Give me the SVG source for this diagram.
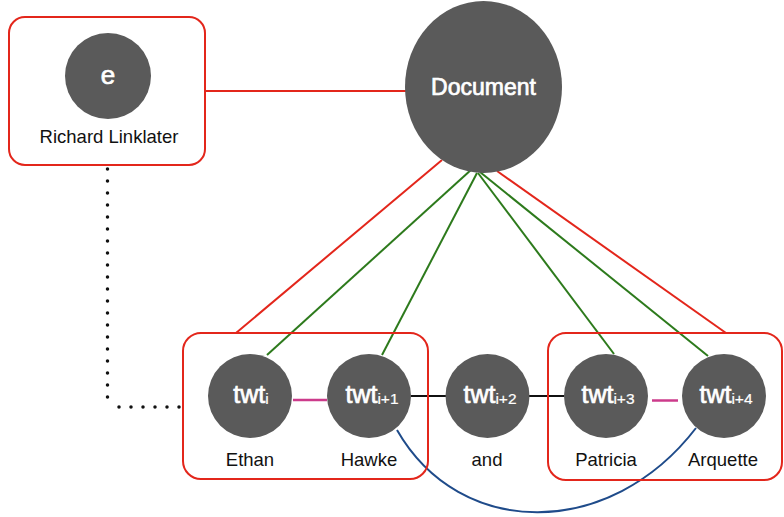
<svg xmlns="http://www.w3.org/2000/svg" width="784" height="517" viewBox="0 0 784 517">
<style>
.node{fill:#5a5a5a}
.box{fill:none;stroke:#e3261b;stroke-width:2}
.wt{fill:#ffffff;stroke:#ffffff;stroke-width:0.7;font-family:"Liberation Sans",Arial,sans-serif;text-anchor:middle}
.sub{font-size:15.5px;stroke-width:0.2}
.lbl{fill:#111111;font-family:"Liberation Sans",Arial,sans-serif;font-size:18.5px;text-anchor:middle}
.red{stroke:#e3261b;stroke-width:2;fill:none}
.green{stroke:#2d7a1c;stroke-width:2;fill:none}
.black{stroke:#111111;stroke-width:2;fill:none}
.pink{stroke:#cc3b8b;stroke-width:2.5;fill:none}
.blue{stroke:#1f4b8a;stroke-width:2;fill:none}
.dot{stroke:#111111;stroke-width:3.5;stroke-linecap:round;stroke-dasharray:0 12;fill:none}
</style>
<rect width="784" height="517" fill="#ffffff"/>
<g id="connectors">
<line class="red" x1="205" y1="91" x2="406" y2="91"/>
<line class="red" x1="442" y1="160" x2="236" y2="333"/>
<line class="red" x1="497" y1="171" x2="726" y2="333"/>
<line class="green" x1="472" y1="169" x2="267" y2="355"/>
<line class="green" x1="477" y1="173" x2="382" y2="355"/>
<line class="green" x1="478" y1="173" x2="614" y2="354"/>
<line class="green" x1="480" y1="172" x2="708" y2="356"/>
<line class="black" x1="411" y1="396" x2="446" y2="396"/>
<line class="black" x1="529" y1="396" x2="564" y2="396"/>
<line class="pink" x1="293" y1="400" x2="327" y2="400"/>
<line class="pink" x1="652" y1="400.5" x2="678" y2="400.5"/>
<path class="blue" d="M397,430 C460,540 610,540 696,428"/>
<path class="dot" d="M107.5,169 V398"/>
<path class="dot" d="M119,407 H181"/>
</g>
<g id="entity-box">
<rect class="box" x="9" y="17" width="196" height="148" rx="16"/>
</g>
<g id="entity">
<circle class="node" cx="108" cy="76" r="43"/>
<text class="wt" x="108" y="84" font-size="26">e</text>
<text class="lbl" x="109" y="143" font-size="19.5">Richard Linklater</text>
</g>
<g id="document">
<ellipse class="node" cx="483.5" cy="87" rx="78.5" ry="86"/>
<text class="wt" x="483.5" y="95" font-size="23">Document</text>
</g>
<g id="group-ethan-hawke">
<rect class="box" x="183" y="333" width="245" height="146" rx="18"/>
</g>
<g id="group-patricia-arquette">
<rect class="box" x="548" y="333" width="234" height="147" rx="18"/>
</g>
<g id="twt-i">
<circle class="node" cx="250" cy="396" r="42"/>
<text class="wt" x="251" y="403" font-size="25">twt<tspan class="sub" dy="1">i</tspan></text>
<text class="lbl" x="250" y="466">Ethan</text>
</g>
<g id="twt-i1">
<circle class="node" cx="369" cy="396" r="42"/>
<text class="wt" x="372" y="403" font-size="25">twt<tspan class="sub" dy="1">i+1</tspan></text>
<text class="lbl" x="369" y="466">Hawke</text>
</g>
<g id="twt-i2">
<circle class="node" cx="487.5" cy="396" r="42"/>
<text class="wt" x="490" y="403" font-size="25">twt<tspan class="sub" dy="1">i+2</tspan></text>
<text class="lbl" x="487" y="466">and</text>
</g>
<g id="twt-i3">
<circle class="node" cx="606" cy="396" r="42"/>
<text class="wt" x="608" y="403" font-size="25">twt<tspan class="sub" dy="1">i+3</tspan></text>
<text class="lbl" x="606" y="466">Patricia</text>
</g>
<g id="twt-i4">
<circle class="node" cx="724" cy="396" r="42"/>
<text class="wt" x="726" y="403" font-size="25">twt<tspan class="sub" dy="1">i+4</tspan></text>
<text class="lbl" x="723" y="466">Arquette</text>
</g>
</svg>
